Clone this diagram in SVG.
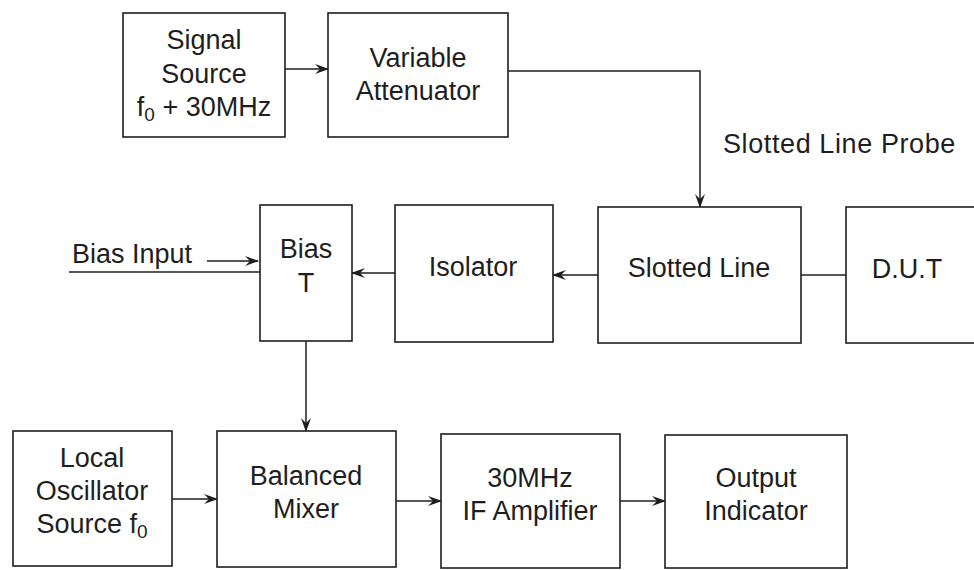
<svg xmlns="http://www.w3.org/2000/svg" width="974" height="570" viewBox="0 0 974 570">
<style>
.box{fill:#fff;stroke:#1e1e1e;stroke-width:1.6}
.t{font-family:"Liberation Sans",Arial,sans-serif;font-size:27px;fill:#1e1e1e;text-anchor:middle}
.ts{font-family:"Liberation Sans",Arial,sans-serif;font-size:27px;fill:#1e1e1e}
.c{fill:none;stroke:#1e1e1e;stroke-width:1.5}
.a{marker-end:url(#arr)}
</style>
<defs>
<marker id="arr" viewBox="0 0 14 10" refX="13" refY="5" markerWidth="14" markerHeight="10" markerUnits="userSpaceOnUse" orient="auto">
<path d="M0,0 L14,5 L0,10 L5,5 Z" fill="#1e1e1e"/>
</marker>
</defs>
<rect width="974" height="570" fill="#fff"/>
<g id="connectors">
<line class="c a" x1="285" y1="69" x2="328" y2="69"/>
<polyline class="c a" points="508,71 700,71 700,207"/>
<line class="c a" x1="598" y1="275" x2="553" y2="275"/>
<line class="c a" x1="395" y1="273" x2="352" y2="273"/>
<line class="c" x1="69" y1="272" x2="260" y2="272"/>
<line class="c a" x1="207" y1="261" x2="258" y2="261"/>
<line class="c a" x1="306" y1="341" x2="306" y2="431"/>
<line class="c" x1="801" y1="275" x2="846" y2="275"/>
<line class="c a" x1="172" y1="499" x2="217" y2="499"/>
<line class="c a" x1="396" y1="501" x2="441" y2="501"/>
<line class="c a" x1="620" y1="501" x2="665" y2="501"/>
</g>
<g id="signal-source">
<rect class="box" x="123" y="13" width="162" height="124"/>
<text class="t" x="204" y="49">Signal</text>
<text class="t" x="204" y="83">Source</text>
<text class="t" x="204" y="116">f<tspan font-size="19" dy="5">0</tspan><tspan dy="-5"> + 30MHz</tspan></text>
</g>
<g id="variable-attenuator">
<rect class="box" x="328" y="13" width="180" height="124"/>
<text class="t" x="418" y="67">Variable</text>
<text class="t" x="418" y="100">Attenuator</text>
</g>
<g id="probe-label">
<text class="ts" x="723" y="153" letter-spacing="0.6">Slotted Line Probe</text>
</g>
<g id="bias-input-label">
<text class="ts" x="72" y="263">Bias Input</text>
</g>
<g id="bias-t">
<rect class="box" x="260" y="205" width="92" height="136"/>
<text class="t" x="306" y="258">Bias</text>
<text class="t" x="306" y="292">T</text>
</g>
<g id="isolator">
<rect class="box" x="395" y="205" width="158" height="137"/>
<text class="t" x="473" y="276">Isolator</text>
</g>
<g id="slotted-line">
<rect class="box" x="598" y="207" width="203" height="136"/>
<text class="t" x="699" y="277">Slotted Line</text>
</g>
<g id="dut">
<rect class="box" x="846" y="207" width="150" height="136"/>
<text class="t" x="907" y="278">D.U.T</text>
</g>
<g id="local-oscillator">
<rect class="box" x="13" y="431" width="159" height="135"/>
<text class="t" x="92" y="467">Local</text>
<text class="t" x="92" y="500">Oscillator</text>
<text class="t" x="92" y="533">Source f<tspan font-size="19" dy="5">0</tspan></text>
</g>
<g id="balanced-mixer">
<rect class="box" x="217" y="431" width="179" height="136"/>
<text class="t" x="306" y="485">Balanced</text>
<text class="t" x="306" y="518">Mixer</text>
</g>
<g id="if-amplifier">
<rect class="box" x="441" y="434" width="179" height="134"/>
<text class="t" x="530" y="487">30MHz</text>
<text class="t" x="530" y="520">IF Amplifier</text>
</g>
<g id="output-indicator">
<rect class="box" x="665" y="435" width="182" height="133"/>
<text class="t" x="756" y="487">Output</text>
<text class="t" x="756" y="520">Indicator</text>
</g>
</svg>
